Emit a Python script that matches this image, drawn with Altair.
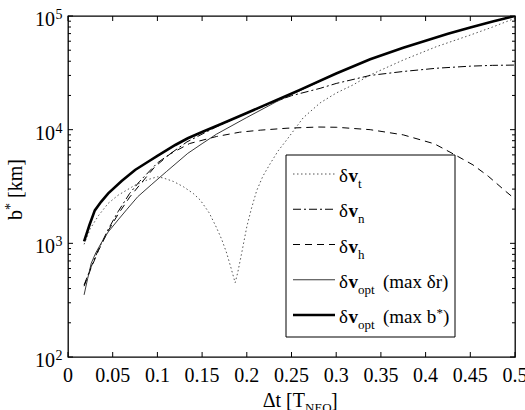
import altair as alt
import pandas as pd

# ---- data: b* [km] versus warning time Δt [T_NEO] for each impulse direction ----
t_vt = [0.018, 0.025, 0.034, 0.045, 0.056, 0.075, 0.09, 0.1, 0.107, 0.118, 0.129, 0.14,
        0.148, 0.158, 0.166, 0.172, 0.1775, 0.182, 0.187, 0.19, 0.194, 0.2, 0.205, 0.211,
        0.218, 0.226, 0.235, 0.245, 0.263, 0.282, 0.3, 0.319, 0.338, 0.375, 0.412, 0.45,
        0.475, 0.5]
b_vt = [980, 1350, 1750, 2250, 2650, 3250, 3650, 3850, 3750, 3500, 3150, 2750,
        2400, 1850, 1380, 1080, 820, 620, 450, 560, 800, 1400, 2000, 2900,
        3900, 5000, 6500, 8200, 12700, 17200, 21000, 24800, 30300, 41000, 53700, 68000,
        80000, 95500]

t_vn = [0.018, 0.026, 0.034, 0.045, 0.056, 0.069, 0.08, 0.1, 0.133, 0.166, 0.2, 0.233,
        0.25, 0.282, 0.3, 0.338, 0.375, 0.412, 0.45, 0.475, 0.5]
b_vn = [430, 624, 880, 1330, 1900, 2750, 3500, 5100, 7800, 10600, 14000, 17800,
        19900, 23100, 25500, 30000, 32500, 34700, 36200, 36800, 37000]

t_vh = [0.018, 0.026, 0.034, 0.045, 0.056, 0.069, 0.08, 0.097, 0.114, 0.136, 0.166, 0.192,
        0.215, 0.245, 0.28, 0.3, 0.338, 0.375, 0.41, 0.433, 0.453, 0.47, 0.49, 0.5]
b_vh = [420, 610, 860, 1290, 1800, 2550, 3250, 4700, 6100, 7550, 8700, 9500,
        9900, 10300, 10550, 10500, 10000, 9000, 7500, 6000, 4900, 3900, 2850, 2450]

t_dr = [0.018, 0.022, 0.026, 0.031, 0.037, 0.045, 0.056, 0.066, 0.078, 0.093, 0.11, 0.134,
        0.15, 0.166, 0.2, 0.233, 0.26, 0.3, 0.338, 0.375, 0.4, 0.425, 0.45, 0.475, 0.5]
b_dr = [352, 490, 668, 822, 1000, 1260, 1607, 1995, 2570, 3270, 4270, 6190,
        7530, 9120, 12800, 17600, 22100, 31200, 41700, 52500, 60500, 69700, 79400, 89300, 100000]

t_bs = [0.018, 0.024, 0.03, 0.037, 0.045, 0.06, 0.075, 0.09, 0.1, 0.12, 0.134, 0.15,
        0.17, 0.2, 0.233, 0.26, 0.3, 0.338, 0.375, 0.4, 0.425, 0.45, 0.475, 0.5]
b_bs = [1040, 1450, 1950, 2320, 2750, 3530, 4420, 5250, 5890, 7330, 8400, 9550,
        11100, 14000, 18200, 22500, 31200, 41700, 52500, 60500, 69700, 79400, 89300, 100000]

# ---- axes ----
x_ticks = [0, 0.05, 0.1, 0.15, 0.2, 0.25, 0.3, 0.35, 0.4, 0.45, 0.5]
x_tick_labels = ["0", "0.05", "0.1", "0.15", "0.2", "0.25", "0.3", "0.35", "0.4", "0.45", "0.5"]
y_ticks = [100, 1000, 10000, 100000]
y_tick_exps = ["2", "3", "4", "5"]
y_minor = [200, 300, 400, 500, 600, 700, 800, 900,
           2000, 3000, 4000, 5000, 6000, 7000, 8000, 9000,
           20000, 30000, 40000, 50000, 60000, 70000, 80000, 90000]

legend_subs = ["t", "n", "h", "opt", "opt"]

W, H = 447, 341
FONT = "'Liberation Serif', serif"

xs = alt.Scale(domain=[0, 0.5], nice=False, zero=False)
ys = alt.Scale(type="log", domain=[100, 100000], nice=False)

X = lambda f: alt.X(f, scale=xs, axis=None)
Y = lambda f: alt.Y(f, scale=ys, axis=None)


def curve(t, b, **style):
    df = pd.DataFrame({"t": t, "b": b})
    return alt.Chart(df).mark_line(clip=True, **style).encode(x=X("t:Q"), y=Y("b:Q"))


one = pd.DataFrame({"k": [0]})


def label(text, x, y, **style):
    return alt.Chart(one).mark_text(font=FONT, **style).encode(
        x=alt.value(x), y=alt.value(y), text=alt.value(text))


STYLES = [
    dict(color="#555555", strokeWidth=1, strokeDash=[1.5, 2.5]),
    dict(color="black", strokeWidth=1, strokeDash=[8, 3, 2, 3]),
    dict(color="black", strokeWidth=1, strokeDash=[7, 5]),
    dict(color="#222222", strokeWidth=0.9),
    dict(color="black", strokeWidth=2.6),
]

curves = [
    curve(t_vt, b_vt, **STYLES[0]),
    curve(t_vn, b_vn, **STYLES[1]),
    curve(t_vh, b_vh, **STYLES[2]),
    curve(t_dr, b_dr, **STYLES[3]),
    curve(t_bs, b_bs, **STYLES[4]),
]

# inward tick marks on all four sides
xt = pd.DataFrame({"t": x_ticks, "lab": x_tick_labels})
yt = pd.DataFrame({"v": y_ticks, "e": y_tick_exps})
ym = pd.DataFrame({"v": y_minor})
tick = dict(color="black", strokeWidth=1)
ticks = [
    alt.Chart(xt).mark_rule(**tick).encode(x=X("t:Q"), y=alt.value(H), y2=alt.value(H - 5)),
    alt.Chart(xt).mark_rule(**tick).encode(x=X("t:Q"), y=alt.value(0), y2=alt.value(5)),
    alt.Chart(yt).mark_rule(**tick).encode(y=Y("v:Q"), x=alt.value(0), x2=alt.value(5)),
    alt.Chart(yt).mark_rule(**tick).encode(y=Y("v:Q"), x=alt.value(W), x2=alt.value(W - 5)),
    alt.Chart(ym).mark_rule(**tick).encode(y=Y("v:Q"), x=alt.value(0), x2=alt.value(3)),
    alt.Chart(ym).mark_rule(**tick).encode(y=Y("v:Q"), x=alt.value(W), x2=alt.value(W - 3)),
]

tick_labels = [
    alt.Chart(xt).mark_text(font=FONT, fontSize=20, align="center", baseline="alphabetic").encode(
        x=X("t:Q"), y=alt.value(366), text="lab:N"),
    alt.Chart(yt).mark_text(font=FONT, fontSize=20, align="right", baseline="alphabetic", dy=10).encode(
        y=Y("v:Q"), x=alt.value(-13), text=alt.value("10")),
    alt.Chart(yt).mark_text(font=FONT, fontSize=14, align="left", baseline="alphabetic", dy=3).encode(
        y=Y("v:Q"), x=alt.value(-12.5), text="e:N"),
]

# axis titles: Δt [T_NEO] and b* [km]
titles = [
    label("Δt [T", 237, 391, fontSize=20, align="right", baseline="alphabetic"),
    label("NEO", 237, 396, fontSize=13, align="left", baseline="alphabetic"),
    label("]", 263, 391, fontSize=20, align="left", baseline="alphabetic"),
    label("b", -46, 204, fontSize=20, align="left", baseline="alphabetic", angle=270),
    label("*", -53, 194, fontSize=14, align="left", baseline="alphabetic", angle=270),
    label("[km]", -46, 182, fontSize=20, align="left", baseline="alphabetic", angle=270),
]

# legend box
legend = [
    alt.Chart(one).mark_rect(fill="white", stroke="black", strokeWidth=1).encode(
        x=alt.value(218), x2=alt.value(387), y=alt.value(139), y2=alt.value(321)),
]
for i, sub in enumerate(legend_subs):
    ly = 158 + 35.25 * i
    legend.append(alt.Chart(one).mark_rule(**STYLES[i]).encode(
        x=alt.value(225), x2=alt.value(267), y=alt.value(ly)))
    legend.append(label("δ", 271, ly + 8, fontSize=19, align="left", baseline="alphabetic"))
    legend.append(label("v", 280.5, ly + 8, fontSize=19, fontWeight="bold", align="left",
                        baseline="alphabetic"))
    legend.append(label(sub, 290, ly + 14, fontSize=13, align="left", baseline="alphabetic"))
    if i == 3:
        legend.append(label("(max δr)", 315, ly + 8, fontSize=19, align="left", baseline="alphabetic"))
    if i == 4:
        legend.append(label("(max b", 315, ly + 8, fontSize=19, align="left", baseline="alphabetic"))
        legend.append(label("*", 368.5, ly + 2, fontSize=13, align="left", baseline="alphabetic"))
        legend.append(label(")", 375, ly + 8, fontSize=19, align="left", baseline="alphabetic"))

chart = alt.layer(*curves, *ticks, *tick_labels, *titles, *legend).properties(
    width=W,
    height=H,
    autosize="none",
    padding={"left": 68, "top": 16, "right": 10, "bottom": 53},
    background="white",
).configure_view(stroke="black", strokeWidth=1.3)

chart.save("out.html", embed_options={"renderer": "svg", "actions": False})
